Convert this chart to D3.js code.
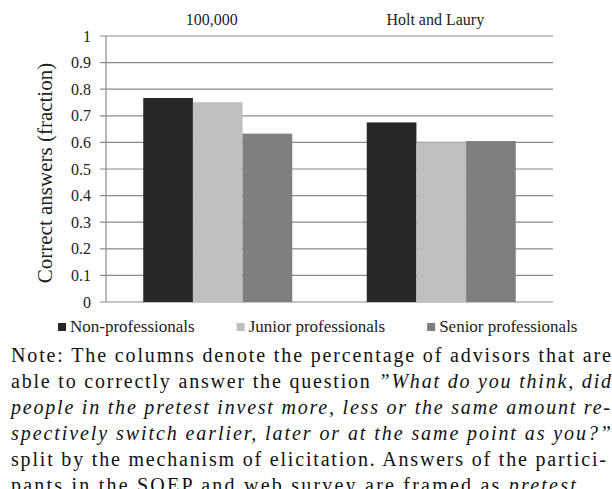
<!DOCTYPE html>
<html>
<head>
<meta charset="utf-8">
<script src="https://cdn.jsdelivr.net/npm/d3@7"></script>
<style>
  html, body { margin: 0; padding: 0; background: #fff; }
  svg { display: block; }
</style>
</head>
<body>
<svg id="chart" width="612" height="489"></svg>
<script>
// ---- data ----
const categories = ["100,000", "Holt and Laury"];
const seriesNames = ["Non-professionals", "Junior professionals", "Senior professionals"];
const nonProfessionals = [0.767, 0.675];
const juniorProfessionals = [0.751, 0.600];
const seniorProfessionals = [0.633, 0.605];
const yTicks = [0, 0.1, 0.2, 0.3, 0.4, 0.5, 0.6, 0.7, 0.8, 0.9, 1];
const yTitle = "Correct answers (fraction)";
// note lines: segments [text, italic]
const noteLines = [
  [["Note: The columns denote the percentage of advisors that are", false]],
  [["able to correctly answer the question ", false], ["\u201DWhat do you think, did", true]],
  [["people in the pretest invest more, less or the same amount re-", true]],
  [["spectively switch earlier, later or at the same point as you?\u201D", true]],
  [["split by the mechanism of elicitation. Answers of the partici-", false]],
  [["pants in the SOEP and web survey are framed as ", false], ["pretest", true], [".", false]]
];

// ---- layout / style ----
const colors = ["#262626", "#bfbfbf", "#7f7f7f"];
const gridColor = "#8a8a8a";
const chartFont = "'Liberation Serif', serif";
const plot = { left: 106, right: 553, top: 36, bottom: 302 };
const noteEnds = [611, 611, 610, 611, 606, 583];

const svg = d3.select("#chart");
svg.append("rect").attr("width", 612).attr("height", 489).attr("fill", "#fff");

const values = [nonProfessionals, juniorProfessionals, seniorProfessionals];
const rows = categories.map((c, i) => ({ cat: c, vals: seriesNames.map((s, j) => ({ s, j, v: values[j][i] })) }));

const y = d3.scaleLinear().domain([0, 1]).range([plot.bottom, plot.top]);
const x0 = d3.scaleBand().domain(categories).range([plot.left, plot.right]).paddingInner(0).paddingOuter(0);
const groupW = x0.bandwidth() * 2 / 3;
const x1 = d3.scaleBand().domain(seriesNames).range([0, groupW]).padding(0);

// gridlines
svg.append("g").selectAll("line").data(yTicks).join("line")
  .attr("x1", plot.left - 6).attr("x2", plot.right)
  .attr("y1", d => y(d)).attr("y2", d => y(d))
  .attr("stroke", gridColor).attr("stroke-width", 1.2);

// y axis line
svg.append("line").attr("x1", plot.left).attr("x2", plot.left)
  .attr("y1", plot.top).attr("y2", plot.bottom)
  .attr("stroke", gridColor).attr("stroke-width", 1.2);

// tick labels
svg.append("g").selectAll("text").data(yTicks).join("text")
  .attr("x", 91).attr("y", d => y(d)).attr("dy", "0.35em")
  .attr("text-anchor", "end")
  .attr("font-family", chartFont).attr("font-size", 16).attr("fill", "#222")
  .text(d => d3.format("")(d));

// bars
const groups = svg.append("g").selectAll("g").data(rows).join("g")
  .attr("transform", d => `translate(${x0(d.cat) + (x0.bandwidth() - groupW) / 2},0)`);
groups.selectAll("rect").data(d => d.vals).join("rect")
  .attr("x", d => x1(d.s)).attr("width", x1.bandwidth())
  .attr("y", d => y(d.v)).attr("height", d => y(0) - y(d.v))
  .attr("fill", d => colors[d.j]);

// category labels on top
svg.append("g").selectAll("text").data(categories).join("text")
  .attr("x", d => x0(d) + x0.bandwidth() / 2 - 6).attr("y", 25)
  .attr("text-anchor", "middle")
  .attr("font-family", chartFont).attr("font-size", 16).attr("fill", "#222")
  .text(d => d);

// y title
svg.append("text")
  .attr("transform", `translate(52,${(plot.top + plot.bottom) / 2 + 4}) rotate(-90)`)
  .attr("text-anchor", "middle")
  .attr("font-family", chartFont).attr("font-size", 21).attr("fill", "#222")
  .text(yTitle);

// legend
const legend = svg.append("g");
let lx = 58;
seriesNames.forEach((s, j) => {
  legend.append("rect").attr("x", lx).attr("y", 323).attr("width", 8).attr("height", 8).attr("fill", colors[j]);
  const t = legend.append("text").attr("x", lx + 12).attr("y", 332)
    .attr("font-family", chartFont).attr("font-size", 17).attr("fill", "#222").text(s);
  lx = lx + 12 + t.node().getComputedTextLength() + 42;
});

// note text (justified)
const noteX = 11;
noteLines.forEach((segs, i) => {
  const t = svg.append("text").attr("x", noteX).attr("y", 361.5 + 26 * i)
    .attr("font-family", "'Liberation Serif', 'Times New Roman', serif")
    .attr("font-size", 20).attr("fill", "#111");
  segs.forEach(([txt, it]) => {
    t.append("tspan").attr("font-style", it ? "italic" : "normal").text(txt);
  });
  const w = t.node().getComputedTextLength();
  const n = segs.map(s => s[0]).join("").length;
  const extra = (noteEnds[i] - noteX - w) / (n - 1);
  t.style("letter-spacing", extra + "px");
});
</script>
</body>
</html>
